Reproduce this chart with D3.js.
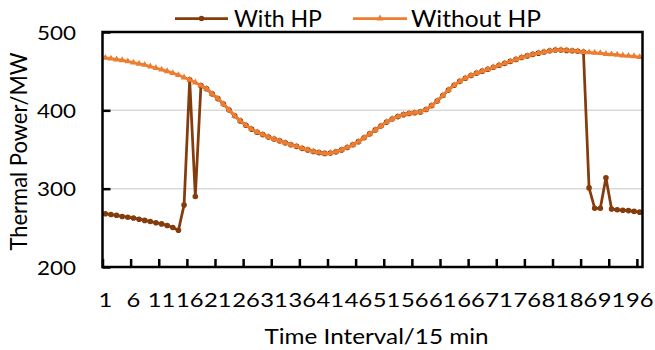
<!DOCTYPE html>
<html><head><meta charset="utf-8">
<script src="https://cdn.jsdelivr.net/npm/d3@7"></script>
<style>html,body{margin:0;padding:0;background:#fff;}svg{display:block;}</style>
</head><body>
<svg id="chart" width="655" height="350"></svg>
<script>
const categories = d3.range(1, 97);
const tickLabels = [1,6,11,16,21,26,31,36,41,46,51,56,61,66,71,76,81,86,91,96];
const yTicks = [200, 300, 400, 500];
const seriesNames = ["With HP", "Without HP"];
const withoutHP = [
 467,466,465,464,462.5,461,459.5,458,456,454,
 452,450,447.5,445,442,439,435.5,431.5,427.5,421,
 415,408,400.5,393,386.5,381,376,372,369,366,
 363.5,361,358.5,356,354,351.5,349.5,347.5,346,345,
 345.5,347,349.5,352.5,356,360,365,370,375,380,
 385,389,392,394.5,396,397,398,401,406,412,
 419,426,432,437,441,444.5,447.5,450,452.5,455,
 457.5,460,462.5,465,467.5,469.5,471.5,473,474.5,476,
 477,477,476.5,476,475.5,474.5,474,473.5,473,472,
 471.5,471,470,469.5,469,468];
const withHP = [
 268,267,266,264.5,263.5,262.5,261,259.5,258,256.5,
 255,253,250.5,247,279,439,290,431.5,427.5,421,
 415,408,400.5,393,386.5,381,376,372,369,366,
 363.5,361,358.5,356,354,351.5,349.5,347.5,346,345,
 345.5,347,349.5,352.5,356,360,365,370,375,380,
 385,389,392,394.5,396,397,398,401,406,412,
 419,426,432,437,441,444.5,447.5,450,452.5,455,
 457.5,460,462.5,465,467.5,469.5,471.5,473,474.5,476,
 477,477,476.5,476,475.5,474.5,301,275,275,314,
 274,273,272.5,272,271,270];

const brown = "#843C0C", orange = "#ED7D31";
const FONT = "Lato, 'Open Sans', sans-serif";
const L = 102.5, R = 642.5, T = 32, B = 267;

const svg = d3.select("#chart");
const x = d3.scaleBand().domain(categories).range([L, R]).paddingInner(0).paddingOuter(0);
const xb = d3.scaleLinear().domain([0, 96]).range([L, R]);
const y = d3.scaleLinear().domain([200, 500]).range([B, T]);
const cx = c => x(c) + x.bandwidth() / 2;

// gridlines
svg.append("g").selectAll("line").data(yTicks.filter(v => v > 200 && v < 500)).join("line")
  .attr("x1", L).attr("x2", R).attr("y1", d => y(d)).attr("y2", d => y(d))
  .attr("stroke", "#d9d9d9").attr("stroke-width", 1.5);

// series
const line = d3.line().x((d, i) => cx(categories[i])).y(d => y(d));
function drawSeries(data, color, marker) {
  const g = svg.append("g");
  g.append("path").datum(data).attr("d", line).attr("fill", "none")
    .attr("stroke", color).attr("stroke-width", 2.75).attr("stroke-linejoin", "round");
  if (marker === "circle") {
    g.selectAll("circle").data(data).join("circle")
      .attr("cx", (d, i) => cx(categories[i])).attr("cy", d => y(d)).attr("r", 2.8)
      .attr("fill", color);
  } else {
    const sym = d3.symbol().type(d3.symbolTriangle).size(20);
    g.selectAll("path.m").data(data).join("path").attr("class", "m")
      .attr("d", sym()).attr("transform", (d, i) => `translate(${cx(categories[i])},${y(d)})`)
      .attr("fill", color);
  }
}
drawSeries(withHP, brown, "circle");
drawSeries(withoutHP, orange, "triangle");

// frame
svg.append("rect").attr("x", L).attr("y", T).attr("width", R - L).attr("height", B - T)
  .attr("fill", "none").attr("stroke", "#000").attr("stroke-width", 2.5);

// y axis ticks (inward)
const yAxis = svg.append("g").attr("transform", `translate(${L},0)`)
  .call(d3.axisLeft(y).tickValues(yTicks).tickSizeInner(-8).tickSizeOuter(0).tickPadding(26).tickFormat(d3.format("d")));
yAxis.select(".domain").remove();
yAxis.selectAll("line").attr("stroke", "#000").attr("stroke-width", 2.5);
yAxis.selectAll("text").attr("font-family", FONT).attr("font-size", 19.5).attr("fill", "#000")
  .attr("dy", null).attr("y", 7).attr("x", -26.5)
  .attr("textLength", 39).attr("lengthAdjust", "spacingAndGlyphs");

// x axis ticks (inward, at category boundaries)
const xTickAxis = svg.append("g").attr("transform", `translate(0,${B})`)
  .call(d3.axisBottom(xb).tickValues(d3.range(0, 96, 5)).tickSizeInner(-8).tickSizeOuter(0).tickFormat(""));
xTickAxis.select(".domain").remove();
xTickAxis.selectAll("line").attr("stroke", "#000").attr("stroke-width", 2.5);

// x labels at category centers
const xLab = svg.append("g").attr("transform", `translate(0,${B})`)
  .call(d3.axisBottom(x).tickValues(tickLabels).tickSize(0).tickPadding(0));
xLab.select(".domain").remove();
xLab.selectAll("text").attr("font-family", FONT).attr("font-size", 19.5).attr("fill", "#000")
  .attr("dy", null).attr("y", 40)
  .attr("textLength", d => String(d).length * 13.8).attr("lengthAdjust", "spacingAndGlyphs");

// axis titles
svg.append("text").attr("x", (L + R) / 2 + 4).attr("y", 344).attr("text-anchor", "middle")
  .attr("font-family", FONT).attr("font-size", 22).attr("fill", "#000")
  .attr("textLength", 224).attr("lengthAdjust", "spacingAndGlyphs").text("Time Interval/15 min");
svg.append("text").attr("transform", `translate(27,${(T + B) / 2 + 2}) rotate(-90)`).attr("text-anchor", "middle")
  .attr("font-family", FONT).attr("font-size", 23).attr("fill", "#000")
  .attr("textLength", 198).attr("lengthAdjust", "spacingAndGlyphs").text("Thermal Power/MW");

// legend
const legend = [
  {name: seriesNames[0], color: brown, marker: "circle", x0: 175, x1: 228, tx: 234, tw: 88},
  {name: seriesNames[1], color: orange, marker: "triangle", x0: 353, x1: 407, tx: 411, tw: 130}
];
const lg = svg.append("g");
legend.forEach(d => {
  lg.append("line").attr("x1", d.x0).attr("x2", d.x1).attr("y1", 18.5).attr("y2", 18.5)
    .attr("stroke", d.color).attr("stroke-width", 2.75);
  if (d.marker === "circle") {
    lg.append("circle").attr("cx", (d.x0 + d.x1) / 2).attr("cy", 18.5).attr("r", 2.8).attr("fill", d.color);
  } else {
    lg.append("path").attr("d", d3.symbol().type(d3.symbolTriangle).size(20)())
      .attr("transform", `translate(${(d.x0 + d.x1) / 2},18.5)`).attr("fill", d.color);
  }
  lg.append("text").attr("x", d.tx).attr("y", 27).attr("font-family", FONT).attr("font-size", 23.5)
    .attr("fill", "#000").attr("textLength", d.tw).attr("lengthAdjust", "spacingAndGlyphs").text(d.name);
});
</script>
</body></html>
